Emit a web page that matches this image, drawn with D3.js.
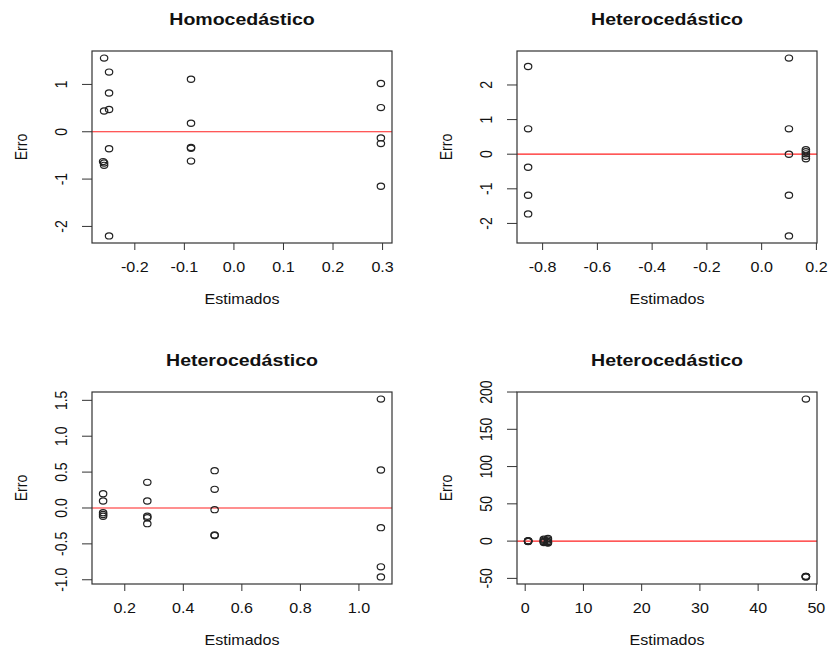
<!DOCTYPE html>
<html>
<head>
<meta charset="utf-8">
<script src="https://cdn.jsdelivr.net/npm/d3@7"></script>
<style>
  body { margin: 0; background: #fff; }
  text { font-family: "Liberation Sans", Arial, sans-serif; fill: #111; }
</style>
</head>
<body>
<svg width="829" height="649"></svg>
<script>
// residuals vs fitted, four panels (R style par(mfrow=c(2,2)))
var titles = ["Homocedástico", "Heterocedástico", "Heterocedástico", "Heterocedástico"];

// panel 1
var fit1 = [-0.262, -0.262, -0.264, -0.262, -0.262,
            -0.252, -0.252, -0.252, -0.252, -0.252,
            -0.0866, -0.0866, -0.0866, -0.0866, -0.0866,
            0.2966, 0.2966, 0.2966, 0.2966, 0.2966];
var res1 = [1.556, 0.44, -0.63, -0.66, -0.71,
            1.26, 0.82, 0.47, -0.36, -2.2,
            1.11, 0.18, -0.33, -0.35, -0.62,
            1.02, 0.51, -0.13, -0.25, -1.15];
var xt1 = [-0.2, -0.1, 0.0, 0.1, 0.2, 0.3];
var xl1 = ["-0.2", "-0.1", "0.0", "0.1", "0.2", "0.3"];
var yt1 = [-2, -1, 0, 1];
var yl1 = ["-2", "-1", "0", "1"];

// panel 2
var fit2 = [-0.853, -0.853, -0.853, -0.853, -0.853,
            0.0996, 0.0996, 0.0996, 0.0996, 0.0996,
            0.1616, 0.1616, 0.1616, 0.1616, 0.1616];
var res2 = [2.535, 0.733, -0.376, -1.186, -1.725,
            2.776, 0.733, 0.0, -1.186, -2.36,
            0.13, 0.07, 0.01, -0.06, -0.13];
var xt2 = [-0.8, -0.6, -0.4, -0.2, 0.0, 0.2];
var xl2 = ["-0.8", "-0.6", "-0.4", "-0.2", "0.0", "0.2"];
var yt2 = [-2, -1, 0, 1, 2];
var yl2 = ["-2", "-1", "0", "1", "2"];

// panel 3
var fit3 = [0.126, 0.126, 0.126, 0.126, 0.126,
            0.277, 0.277, 0.277, 0.277, 0.277,
            0.507, 0.507, 0.507, 0.507, 0.507,
            1.075, 1.075, 1.075, 1.075, 1.075];
var res3 = [0.2, 0.097, -0.065, -0.09, -0.116,
            0.357, 0.097, -0.116, -0.135, -0.218,
            0.52, 0.26, -0.023, -0.376, -0.385,
            1.517, 0.529, -0.274, -0.82, -0.96];
var xt3 = [0.2, 0.4, 0.6, 0.8, 1.0];
var xl3 = ["0.2", "0.4", "0.6", "0.8", "1.0"];
var yt3 = [-1.0, -0.5, 0.0, 0.5, 1.0, 1.5];
var yl3 = ["-1.0", "-0.5", "0.0", "0.5", "1.0", "1.5"];

// panel 4
var fit4 = [0.5, 0.5, 0.5, 0.5, 0.5,
            3.2, 3.2, 3.2, 3.2, 3.2,
            3.9, 3.9, 3.9, 3.9, 3.9,
            48.2, 48.2, 48.2, 48.2, 48.2];
var res4 = [0.6, 0.3, -0.1, -0.3, -0.5,
            2.5, 1.0, -0.5, -1.0, -2.0,
            3.5, 1.5, -0.5, -2.0, -2.5,
            190.5, -47.3, -47.5, -47.7, -48.0];
var xt4 = [0, 10, 20, 30, 40, 50];
var xl4 = ["0", "10", "20", "30", "40", "50"];
var yt4 = [-50, 0, 50, 100, 150, 200];
var yl4 = ["-50", "0", "50", "100", "150", "200"];

var panels = [
  {x: fit1, y: res1, xt: xt1, xl: xl1, yt: yt1, yl: yl1, left: 92,  top: 51},
  {x: fit2, y: res2, xt: xt2, xl: xl2, yt: yt2, yl: yl2, left: 517, top: 51},
  {x: fit3, y: res3, xt: xt3, xl: xl3, yt: yt3, yl: yl3, left: 92,  top: 392},
  {x: fit4, y: res4, xt: xt4, xl: xl4, yt: yt4, yl: yl4, left: 517, top: 392}
];

var pw = 300, ph = 192;
var sx = 1.15; // picture is stretched sideways

// R pads the data range by 4% on each side
function rDomain(v) {
  var e = d3.extent(v), pad = (e[1] - e[0]) * 0.04;
  return [e[0] - pad, e[1] + pad];
}

var svg = d3.select('svg');

panels.forEach(function (p, i) {
  var g = svg.append('g')
      .attr('transform', 'translate(' + p.left + ',' + p.top + ')');

  var x = d3.scaleLinear().domain(rDomain(p.x)).range([0, pw]);
  var y = d3.scaleLinear().domain(rDomain(p.y)).range([ph, 0]);

  // title
  g.append('text')
      .attr('transform', 'translate(' + pw / 2 + ',-26) scale(' + sx + ',1)')
      .attr('text-anchor', 'middle')
      .style('font-size', '17px')
      .style('font-weight', 'bold')
      .text(titles[i]);

  // zero line
  g.append('line')
      .attr('x1', 0).attr('x2', pw)
      .attr('y1', y(0)).attr('y2', y(0))
      .style('stroke', '#ff2020')
      .style('stroke-width', 1.2);

  // points
  g.selectAll('ellipse')
      .data(p.x.map(function (d, j) { return [d, p.y[j]]; }))
      .enter()
      .append('ellipse')
      .attr('cx', function (d) { return x(d[0]); })
      .attr('cy', function (d) { return y(d[1]); })
      .attr('rx', 3.7)
      .attr('ry', 3.1)
      .style('fill', 'none')
      .style('stroke', '#222')
      .style('stroke-width', 1.2);

  // x ticks
  g.selectAll('.xt')
      .data(p.xt)
      .enter()
      .append('line')
      .attr('x1', function (d) { return x(d); })
      .attr('x2', function (d) { return x(d); })
      .attr('y1', ph).attr('y2', ph + 7)
      .style('stroke', '#333');

  g.selectAll('.xl')
      .data(p.xt)
      .enter()
      .append('text')
      .attr('transform', function (d) {
        return 'translate(' + x(d) + ',' + (ph + 28.5) + ') scale(' + sx + ',1)';
      })
      .attr('text-anchor', 'middle')
      .style('font-size', '14px')
      .text(function (d, j) { return p.xl[j]; });

  // y ticks
  g.selectAll('.yt')
      .data(p.yt)
      .enter()
      .append('line')
      .attr('x1', -10).attr('x2', 0)
      .attr('y1', function (d) { return y(d); })
      .attr('y2', function (d) { return y(d); })
      .style('stroke', '#333');

  g.selectAll('.yl')
      .data(p.yt)
      .enter()
      .append('text')
      .attr('transform', function (d) {
        return 'translate(-25,' + y(d) + ') scale(' + sx + ',1) rotate(-90)';
      })
      .attr('text-anchor', 'middle')
      .style('font-size', '14px')
      .text(function (d, j) { return p.yl[j]; });

  // box
  g.append('rect')
      .attr('width', pw).attr('height', ph)
      .style('fill', 'none')
      .style('stroke', '#333')
      .style('stroke-width', 1.2);

  // axis labels
  g.append('text')
      .attr('transform', 'translate(' + pw / 2 + ',' + (ph + 61) + ') scale(' + sx + ',1)')
      .attr('text-anchor', 'middle')
      .style('font-size', '14px')
      .text('Estimados');

  g.append('text')
      .attr('transform', 'translate(-65,' + ph / 2 + ') scale(' + sx + ',1) rotate(-90)')
      .attr('text-anchor', 'middle')
      .style('font-size', '14px')
      .text('Erro');
});
</script>
</body>
</html>
